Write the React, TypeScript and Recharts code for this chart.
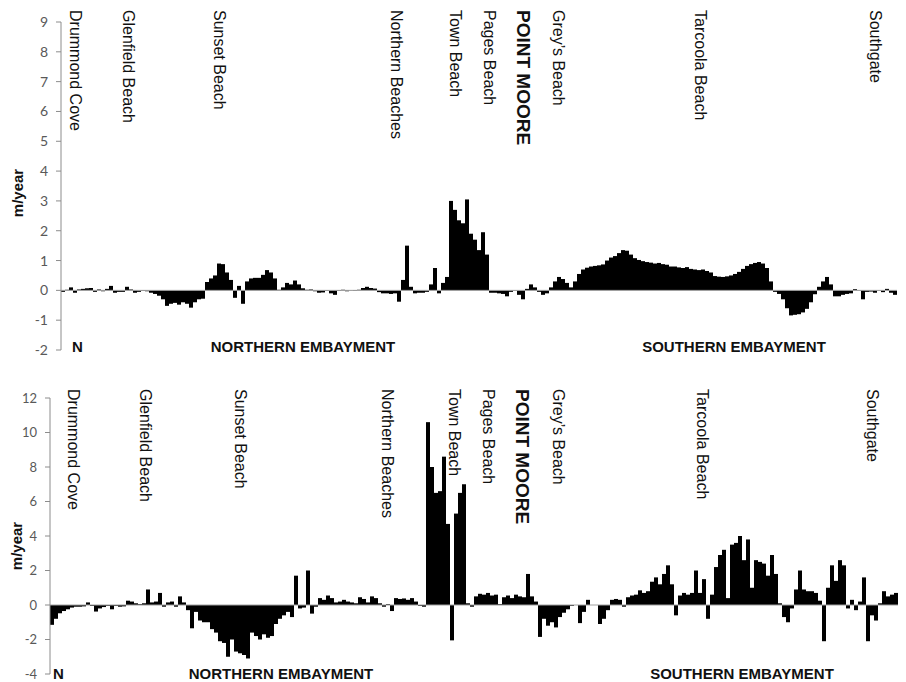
import { BarChart, Bar, XAxis, YAxis, ReferenceLine } from 'recharts'

// shoreline change rate per transect, north -> south (m/year)
const RATES_TOP = [
  -0.05, 0.02, 0.1, -0.08, 0.03, 0.05, 0.07, 0.08, -0.05, 0.03,
  -0.03, 0.05, 0.15, -0.08, -0.05, -0.05, 0.12, 0.03, -0.08, -0.05,
  -0.02, -0.03, -0.08, -0.12, -0.18, -0.3, -0.52, -0.45, -0.42, -0.48,
  -0.4, -0.45, -0.58, -0.4, -0.3, -0.28, 0.28, 0.4, 0.5, 0.9,
  0.88, 0.6, 0.35, -0.25, 0.15, -0.45, 0.3, 0.4, 0.42, 0.42,
  0.52, 0.68, 0.6, 0.4, 0.02, 0.1, 0.25, 0.2, 0.33, 0.2,
  0.07, 0.02, 0.03, -0.03, -0.08, -0.07, -0.02, -0.1, -0.15, -0.02,
  0.02, -0.03, 0.01, -0.02, 0.02, 0.08, 0.12, 0.08, 0.06, -0.06,
  -0.1, -0.1, -0.12, -0.1, -0.38, 0.35, 1.5, 0.12, -0.1, -0.08,
  -0.08, -0.05, 0.2, 0.75, -0.1, 0.25, 0.45, 3.0, 2.7, 2.35,
  2.25, 3.05, 1.9, 1.7, 1.35, 1.95, 1.2, -0.08, -0.08, -0.1,
  -0.12, -0.2, -0.05, 0.01, -0.15, -0.3, 0.05, 0.2, 0.1, -0.05,
  -0.15, -0.1, 0.1, 0.3, 0.45, 0.38, 0.25, 0.1, 0.3, 0.55,
  0.7, 0.76, 0.8, 0.82, 0.84, 0.87, 1.0, 1.1, 1.15, 1.25,
  1.35, 1.33, 1.2, 1.08, 1.02, 0.98, 0.95, 0.93, 0.9, 0.92,
  0.88, 0.86, 0.8, 0.8, 0.77, 0.75, 0.78, 0.72, 0.7, 0.68,
  0.7, 0.65, 0.6, 0.48, 0.46, 0.45, 0.47, 0.5, 0.55, 0.62,
  0.72, 0.82, 0.88, 0.92, 0.95, 0.9, 0.75, 0.3, -0.05, -0.12,
  -0.3, -0.6, -0.84, -0.82, -0.8, -0.74, -0.62, -0.4, -0.13, 0.12,
  0.3, 0.45, 0.2, -0.2, -0.2, -0.15, -0.12, -0.1, 0.04, 0.01,
  -0.3, -0.05, -0.04, -0.08, 0.01, -0.06, 0.05, -0.08, -0.15,
]

const RATES_BOTTOM = [
  -1.15, -0.8, -0.48, -0.35, -0.25, -0.15, -0.1, -0.1, -0.08, 0.15,
  -0.05, -0.38, -0.2, -0.12, -0.05, -0.25, -0.05, -0.1, -0.08, 0.25,
  0.2, 0.1, 0.05, 0.1, 0.9, 0.15, 0.2, 0.7, -0.1, 0.15,
  0.2, -0.1, 0.5, 0.15, -0.3, -1.35, -0.4, -0.9, -1.0, -1.0,
  -1.4, -1.6, -2.1, -2.2, -3.0, -2.0, -2.7, -2.8, -2.9, -3.1,
  -1.6, -1.8, -2.0, -1.7, -1.9, -1.8, -1.1, -0.8, -0.6, -0.4,
  -0.7, 1.7, -0.2, -0.15, 2.0, -0.5, -0.1, 0.4, 0.3, 0.55,
  0.4, 0.15, 0.2, 0.3, 0.2, 0.15, 0.1, 0.45, 0.35, 0.15,
  0.5, 0.4, 0.1, -0.1, 0.05, -0.35, 0.4, 0.35, 0.38, 0.3,
  0.4, 0.2, -0.05, -0.1, 10.6, 8.0, 6.5, 6.6, 8.6, 4.7,
  -2.05, 5.3, 6.5, 7.0, 0.1, -0.1, 0.5, 0.65, 0.6, 0.7,
  0.55, 0.6, 0.05, 0.45, 0.55, 0.4, 0.6, 0.5, 0.45, 1.8,
  0.5, 0.2, -1.85, -0.8, -1.2, -1.0, -1.3, -0.7, -0.45, -0.25,
  -0.05, 0, -1.05, -0.4, 0.3, 0, 0, -1.1, -0.8, -0.3,
  0.3, 0.35, 0.3, -0.1, 0.45, 0.55, 0.6, 0.85, 0.7, 0.8,
  1.35, 1.6, 1.2, 1.8, 2.3, 1.2, -0.6, 0.55, 0.7, 0.6,
  0.7, 2.0, 0.7, 1.5, -0.8, 0.6, 2.2, 2.9, 3.2, 0.4,
  3.5, 3.6, 4.0, 2.6, 3.8, 1.0, 2.6, 2.5, 2.4, 1.7,
  2.9, 1.8, 0.1, -0.7, -1.0, -0.2, 0.9, 2.0, 0.9, 0.8,
  0.8, 0.7, 0.25, -2.1, 1.0, 2.3, 1.4, 2.6, 2.3, -0.2,
  0.3, -0.3, 0.2, 1.6, -2.1, -0.6, -0.9, 0.1, 0.8, 0.5,
  0.6, 0.7,
]

const TICKS_TOP = [-2, -1, 0, 1, 2, 3, 4, 5, 6, 7, 8, 9]
const TICKS_BOTTOM = [-4, -2, 0, 2, 4, 6, 8, 10, 12]

const BEACHES = [
  'Drummond Cove',
  'Glenfield Beach',
  'Sunset Beach',
  'Northern Beaches',
  'Town Beach',
  'Pages Beach',
  'POINT MOORE',
  "Grey’s Beach",
  'Tarcoola Beach',
  'Southgate',
]

// label centres in px, one per beach
const BEACH_X_TOP = [75, 128, 219, 396, 455, 489, 523, 558, 700, 875]
const BEACH_X_BOTTOM = [73, 145, 240, 387, 454, 488, 522, 558, 702, 872]

const AXIS_GREY = '#8c8c8c'

function RateChart({
  values,
  ticks,
  height,
  margin,
  fontSize,
}: {
  values: number[]
  ticks: number[]
  height: number
  margin: { top: number; right: number; bottom: number; left: number }
  fontSize: number
}) {
  const data = values.map((rate, i) => ({ transect: i, rate }))
  return (
    <BarChart
      width={906}
      height={height}
      data={data}
      margin={margin}
      barCategoryGap={0}
      barGap={0}>
      <XAxis dataKey='transect' hide />
      <YAxis
        domain={[ticks[0], ticks[ticks.length - 1]]}
        ticks={ticks}
        interval={0}
        width={40}
        allowDataOverflow
        axisLine={{ stroke: AXIS_GREY }}
        tickLine={{ stroke: AXIS_GREY }}
        tickSize={5}
        tickMargin={8}
        tick={{ fill: '#595959', fontSize, fontFamily: 'Lato, sans-serif' }}
      />
      <ReferenceLine y={0} stroke='#a0a0a0' />
      <Bar dataKey='rate' fill='#000' isAnimationActive={false} />
    </BarChart>
  )
}

function BeachLabels({ xs, top }: { xs: number[]; top: number }) {
  return (
    <>
      {BEACHES.map((name, i) => {
        const big = name === 'POINT MOORE'
        return (
          <text
            key={name}
            x={xs[i]}
            y={top}
            transform={`rotate(90 ${xs[i]} ${top})`}
            dominantBaseline='central'
            fontFamily='Liberation Sans, Arial, sans-serif'
            fontSize={big ? 19 : 16}
            fontWeight={big ? 'bold' : 'normal'}
            fill='#111'>
            {name}
          </text>
        )
      })}
    </>
  )
}

const boldText = {
  fontFamily: 'Liberation Sans, Arial, sans-serif',
  fontSize: 15,
  fontWeight: 'bold' as const,
  fill: '#111',
}

export default function App() {
  return (
    <div style={{ position: 'absolute', left: 0, top: 0, width: 906, height: 682, background: '#fff' }}>
      <div style={{ position: 'absolute', left: 0, top: 0 }}>
        <RateChart
          values={RATES_TOP}
          ticks={TICKS_TOP}
          height={360}
          margin={{ top: 22, right: 9, bottom: 10, left: 21 }}
          fontSize={14}
        />
      </div>
      <div style={{ position: 'absolute', left: 0, top: 360 }}>
        <RateChart
          values={RATES_BOTTOM}
          ticks={TICKS_BOTTOM}
          height={322}
          margin={{ top: 38, right: 8, bottom: 8, left: 10 }}
          fontSize={13}
        />
      </div>
      <svg
        width={906}
        height={682}
        style={{ position: 'absolute', left: 0, top: 0, pointerEvents: 'none' }}>
        <BeachLabels xs={BEACH_X_TOP} top={10} />
        <BeachLabels xs={BEACH_X_BOTTOM} top={389} />

        <text x={17} y={193} transform='rotate(-90 17 193)' textAnchor='middle' dominantBaseline='central' {...boldText}>
          m/year
        </text>
        <text x={16} y={546} transform='rotate(-90 16 546)' textAnchor='middle' dominantBaseline='central' {...boldText}>
          m/year
        </text>

        <text x={72} y={346} dominantBaseline='central' {...boldText}>N</text>
        <text x={303} y={346} textAnchor='middle' dominantBaseline='central' {...boldText}>NORTHERN EMBAYMENT</text>
        <text x={734} y={346} textAnchor='middle' dominantBaseline='central' {...boldText}>SOUTHERN EMBAYMENT</text>

        <text x={53} y={673} dominantBaseline='central' {...boldText}>N</text>
        <text x={281} y={673} textAnchor='middle' dominantBaseline='central' {...boldText}>NORTHERN EMBAYMENT</text>
        <text x={742} y={673} textAnchor='middle' dominantBaseline='central' {...boldText}>SOUTHERN EMBAYMENT</text>
      </svg>
    </div>
  )
}
